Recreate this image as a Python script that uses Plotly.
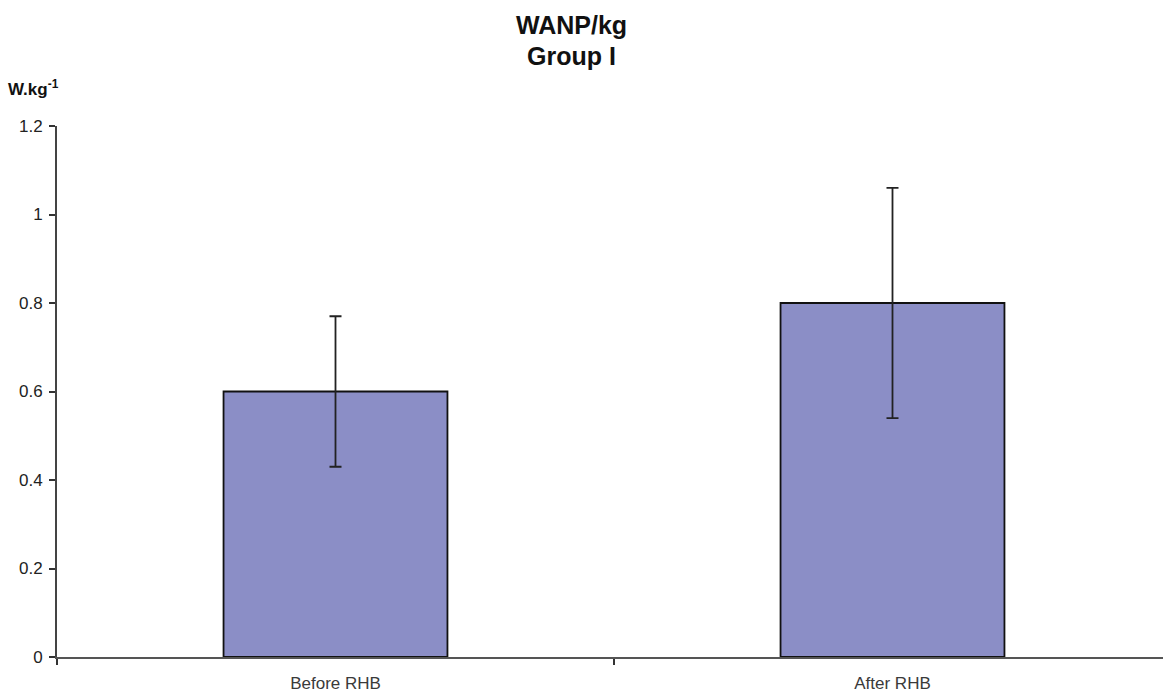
import plotly.graph_objects as go

categories = ["Before RHB", "After RHB"]
values = [0.6, 0.8]
errors = [0.17, 0.26]
y_ticks = [0, 0.2, 0.4, 0.6, 0.8, 1.0, 1.2]
y_tick_labels = ["0", "0.2", "0.4", "0.6", "0.8", "1", "1.2"]

FONT = "Liberation Sans, Arial, sans-serif"

fig = go.Figure()
fig.add_trace(go.Bar(
    x=categories, y=values,
    width=0.402,
    marker=dict(color="#8b8ec6", line=dict(color="#111111", width=1.8)),
    error_y=dict(type="data", array=errors, visible=True,
                 color="#222222", thickness=1.8, width=6),
))

W, H = 1163, 695
L, T, B = 57, 126, 38
fig.update_layout(
    width=W, height=H,
    margin=dict(l=L, r=0, t=T, b=B),
    paper_bgcolor="white", plot_bgcolor="white",
    showlegend=False,
    font=dict(family=FONT, color="#222222"),
    xaxis=dict(
        type="category",
        range=[-0.5, -0.5 + (W - L) / 557.0],
        showline=True, linecolor="#555555", linewidth=2,
        ticks="outside", tickson="boundaries", ticklen=6, tickwidth=2,
        tickcolor="#333333",
        ticklabelstandoff=10,
        tickfont=dict(size=17, color="#3a3a3a", family=FONT),
        showgrid=False, zeroline=False,
    ),
    yaxis=dict(
        range=[0, 1.2],
        tickvals=y_ticks, ticktext=y_tick_labels,
        showline=True, linecolor="#444444", linewidth=2,
        ticks="outside", ticklen=6, tickwidth=2, tickcolor="#333333",
        ticklabelstandoff=3,
        tickfont=dict(size=17, color="#222222", family=FONT),
        showgrid=False, zeroline=False,
    ),
)

plot_w = W - L
plot_h = H - T - B

def px_x(p):
    return (p - L) / plot_w

def px_y(p):
    return (H - B - p) / plot_h

fig.add_annotation(text="<b>WANP/kg</b>", xref="paper", yref="paper",
                   x=px_x(571), y=px_y(25), xanchor="center", yanchor="middle",
                   showarrow=False, font=dict(size=25, color="#111111", family=FONT))
fig.add_annotation(text="<b>Group I</b>", xref="paper", yref="paper",
                   x=px_x(571), y=px_y(56), xanchor="center", yanchor="middle",
                   showarrow=False, font=dict(size=25, color="#111111", family=FONT))
fig.add_annotation(text="<b>W.kg<sup>-1</sup></b>", xref="paper", yref="paper",
                   x=px_x(6), y=px_y(88), xanchor="left", yanchor="middle",
                   showarrow=False, font=dict(size=17, color="#111111", family=FONT))

fig.write_html("out.html")
